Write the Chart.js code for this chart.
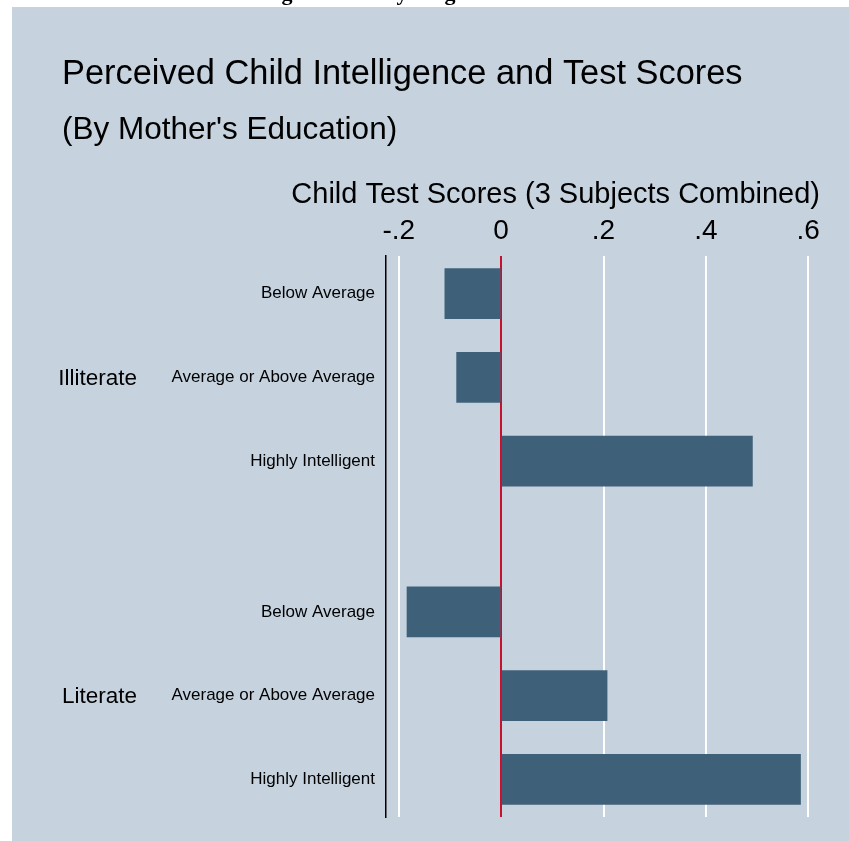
<!DOCTYPE html>
<html>
<head>
<meta charset="utf-8">
<script src="https://cdn.jsdelivr.net/npm/chart.js@4.4.1/dist/chart.umd.min.js"></script>
<style>
  html, body { margin: 0; padding: 0; background: #fff; }
  #wrap { width: 849px; height: 841px; }
</style>
</head>
<body>
<div id="wrap"><canvas id="chart" width="849" height="841"></canvas></div>
<script>
const groups = ['Illiterate', 'Literate'];
const items = ['Below Average', 'Average or Above Average', 'Highly Intelligent'];
const illiterateScores = [-0.110, -0.087, 0.491];
const literateScores = [-0.184, 0.207, 0.585];
const xTicks = [-0.2, 0, 0.2, 0.4, 0.6];
const xTitle = 'Child Test Scores (3 Subjects Combined)';

const FONT = '"Liberation Sans", Arial, Helvetica, sans-serif';
const PANEL = '#c6d3df';
const BAR = '#3e6179';
const ZERO = '#c8102e';
const GROUP_GAP = 0.8; // extra space between the two groups, in bar slots

// y position of each bar: items stacked within a group, groups separated by a gap
function slot(g, i) {
  return g * (items.length + GROUP_GAP) + i;
}

const seriesByGroup = [illiterateScores, literateScores];
const points = [];
const itemAt = new Map();
seriesByGroup.forEach((vals, g) => {
  vals.forEach((v, i) => {
    const y = slot(g, i);
    points.push({ x: v, y });
    itemAt.set(y, items[i]);
  });
});
const slotPositions = [...itemAt.keys()];

function fmtTick(v) {
  if (v === 0) return '0';
  const s = String(Math.round(v * 10) / 10);
  return s.replace('0.', '.');
}

const backdrop = {
  id: 'backdrop',
  beforeDraw(chart) {
    const ctx = chart.ctx;
    ctx.save();
    ctx.fillStyle = '#fff';
    ctx.fillRect(0, 0, chart.width, chart.height);
    ctx.fillStyle = PANEL;
    ctx.fillRect(12, 7, chart.width - 12, chart.height - 7);

    // cropped heading above the panel, only the descenders show
    ctx.fillStyle = '#000';
    ctx.font = 'bold 22px "Liberation Serif", "Times New Roman", serif';
    ctx.textAlign = 'center';
    ctx.textBaseline = 'alphabetic';
    ctx.fillText('g', 287, 0);
    ctx.fillText('y', 402, 0);
    ctx.fillText('g', 450, 0);

    // titles
    ctx.textAlign = 'left';
    ctx.font = '34.4px ' + FONT;
    ctx.fillText('Perceived Child Intelligence and Test Scores', 62, 84);
    ctx.font = '31.5px ' + FONT;
    ctx.fillText("(By Mother's Education)", 62, 139);

    // axis title sits wider than the plot, so it is drawn here
    ctx.textAlign = 'right';
    ctx.font = '29px ' + FONT;
    ctx.fillText(xTitle, 820, 203);
    ctx.restore();
  },
  afterDraw(chart) {
    const ctx = chart.ctx;
    const yScale = chart.scales.y;
    ctx.save();
    ctx.fillStyle = '#000';
    ctx.font = '22.5px ' + FONT;
    ctx.textAlign = 'right';
    ctx.textBaseline = 'middle';
    groups.forEach((name, g) => {
      const mid = slot(g, (items.length - 1) / 2);
      ctx.fillText(name, 137, yScale.getPixelForValue(mid) + 1);
    });
    ctx.restore();
  },
};

new Chart(document.getElementById('chart'), {
  type: 'bar',
  data: {
    datasets: [{
      data: points,
      backgroundColor: BAR,
      borderWidth: 0,
      barThickness: 50,
    }],
  },
  options: {
    responsive: false,
    animation: false,
    indexAxis: 'y',
    layout: { padding: { top: 160, right: 28, bottom: 24, left: 0 } },
    plugins: { legend: { display: false }, tooltip: { enabled: false } },
    scales: {
      x: {
        type: 'linear',
        position: 'top',
        min: -0.225,
        max: 0.625,
        afterBuildTicks(scale) {
          scale.ticks = xTicks.map((v) => ({ value: v }));
        },
        afterFit(scale) {
          scale.height = 96;
        },
        ticks: {
          color: '#000',
          font: { family: FONT, size: 28 },
          padding: 8,
          maxRotation: 0,
          callback: (v) => fmtTick(v),
        },
        grid: {
          drawTicks: false,
          lineWidth: 2,
          color: (ctx) => (ctx.tick && ctx.tick.value === 0 ? ZERO : '#ffffff'),
        },
        border: { display: false },
      },
      y: {
        type: 'linear',
        reverse: true,
        offset: false,
        min: -0.45,
        max: slot(groups.length - 1, items.length - 1) + 0.45,
        afterBuildTicks(scale) {
          scale.ticks = slotPositions.map((v) => ({ value: v }));
        },
        afterFit(scale) {
          scale.width = 386;
        },
        ticks: {
          color: '#000',
          font: { family: FONT, size: 17 },
          padding: 11,
          autoSkip: false,
          callback: (v) => itemAt.get(v) || '',
        },
        grid: { display: false, drawTicks: false },
        border: { display: true, color: '#000', width: 1.5 },
      },
    },
  },
  plugins: [backdrop],
});
</script>
</body>
</html>
